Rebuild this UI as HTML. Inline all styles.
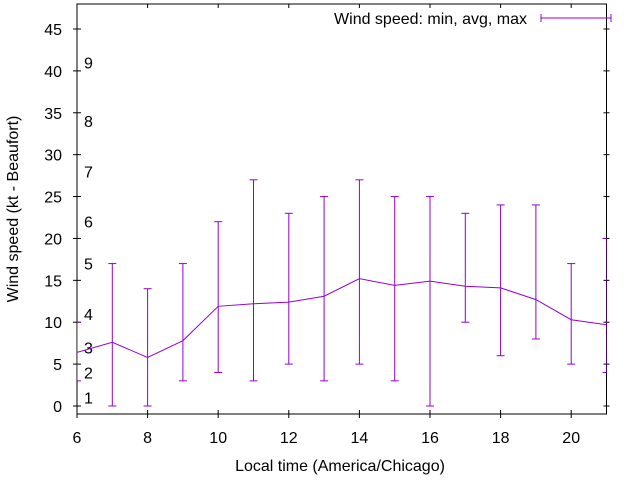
<!DOCTYPE html>
<html><head><meta charset="utf-8"><style>
body{margin:0;background:#fff}
svg{display:block;font-family:"Liberation Sans",sans-serif}
</style></head><body>
<svg id="c" width="640" height="480">
<g id="axes"></g><g id="plot" clip-path="url(#clip)"></g>
<defs><clipPath id="clip"><rect x="77" y="4" width="529.5" height="410"/></clipPath></defs>
<text x="18" y="209" font-size="16" text-anchor="middle" transform="rotate(-90 18 209)">Wind speed (kt - Beaufort)</text>
<text x="340" y="471" font-size="16" text-anchor="middle">Local time (America/Chicago)</text>
<g>
<text x="527" y="24" font-size="16" text-anchor="end">Wind speed: min, avg, max</text>
<line x1="541" y1="18" x2="611" y2="18" stroke="#9400d3"/>
<line x1="541" y1="14" x2="541" y2="22" stroke="#9400d3"/>
<line x1="611" y1="14" x2="611" y2="22" stroke="#9400d3"/>
</g>
</svg>
<script>
const hours=[6,7,8,9,10,11,12,13,14,15,16,17,18,19,20,21];
const avgSpeed=[6.4,7.6,5.8,7.8,11.9,12.2,12.4,13.1,15.2,14.4,14.9,14.3,14.1,12.7,10.3,9.7];
const minSpeed=[3,0,0,3,4,3,5,3,5,3,0,10,6,8,5,4];
const maxSpeed=[10,17,14,17,22,27,23,25,27,25,25,23,24,24,17,20];
const xTicks=[6,8,10,12,14,16,18,20];
const yTicks=[0,5,10,15,20,25,30,35,40,45];
const beaufortLabels=["1","2","3","4","5","6","7","8","9"];
const beaufortPos=[1,4,7,11,17,22,28,34,41];
const NS="http://www.w3.org/2000/svg";
const L=77,R=606.5,T=4,B=414;
const xs=h=>L+(h-6)*(R-L)/15;
const ys=v=>406-v*(406-29)/45;
function mk(p,t,a){const e=document.createElementNS(NS,t);for(const k in a)e.setAttribute(k,a[k]);p.appendChild(e);return e;}
const ax=document.getElementById('axes'),pl=document.getElementById('plot');
const border=mk(ax,'rect',{x:L,y:T,width:R-L,height:B-T,fill:'none',stroke:'#000'});


yTicks.forEach(v=>{const y=ys(v);
 mk(ax,'line',{x1:L-4,y1:y,x2:L+4,y2:y,stroke:'#000'});
 mk(ax,'line',{x1:R-3,y1:y,x2:R+3,y2:y,stroke:'#000'});
 const t=mk(ax,'text',{x:62,y:y+6,'font-size':16,'text-anchor':'end'});t.textContent=v;
 
 
});
xTicks.forEach(h=>{const x=xs(h);
 mk(ax,'line',{x1:x,y1:B+4,x2:x,y2:B-4,stroke:'#000'});
 mk(ax,'line',{x1:x,y1:T,x2:x,y2:T+4,stroke:'#000'});
 const t=mk(ax,'text',{x:x,y:443,'font-size':16,'text-anchor':'middle'});t.textContent=h;
 
 
});
beaufortPos.forEach((v,i)=>{const y=ys(v);
 const t=mk(ax,'text',{x:84,y:y+6,'font-size':16});t.textContent=beaufortLabels[i];
 
 
});
hours.forEach((h,i)=>{const x=xs(h),g=mk(pl,'g',{stroke:'#9400d3'});
 
 
 mk(g,'line',{x1:x,y1:ys(minSpeed[i]),x2:x,y2:ys(maxSpeed[i])});
 mk(g,'line',{x1:x-4,y1:ys(minSpeed[i]),x2:x+4,y2:ys(minSpeed[i])});
 mk(g,'line',{x1:x-4,y1:ys(maxSpeed[i]),x2:x+4,y2:ys(maxSpeed[i])});
});
const line=mk(pl,'polyline',{points:hours.map((h,i)=>xs(h)+','+ys(avgSpeed[i])).join(' '),fill:'none',stroke:'#9400d3'});


</script>
</body></html>
